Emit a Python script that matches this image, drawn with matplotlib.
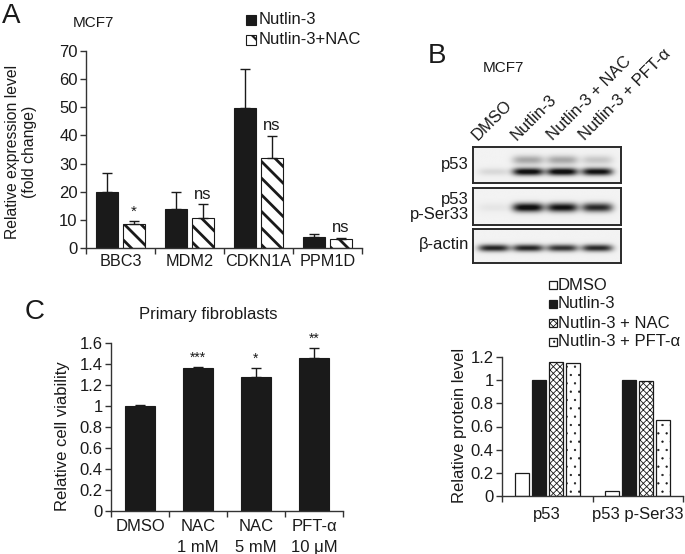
import numpy as np
import matplotlib
matplotlib.use('Agg')
import matplotlib.pyplot as plt
from matplotlib.patches import Rectangle

plt.rcParams['font.family'] = ['Liberation Sans', 'DejaVu Sans']
plt.rcParams['hatch.linewidth'] = 2.0

# ---------------- data ----------------
# Panel A
genes = ['BBC3', 'MDM2', 'CDKN1A', 'PPM1D']
nutlin = [20.0, 14.0, 49.8, 4.0]
nutlin_err = [6.5, 5.8, 13.7, 0.9]
nutlin_nac = [8.5, 10.5, 32.0, 3.2]
nutlin_nac_err = [1.0, 5.0, 7.7, 0.4]
sig_A = ['*', 'ns', 'ns', 'ns']

# Panel B blot (relative band intensities per lane)
lanes = ['DMSO', 'Nutlin-3', 'Nutlin-3 + NAC', 'Nutlin-3 + PFT-α']
p53_band = [0.10, 0.95, 0.97, 0.92]
p53_upper_band = [0.0, 0.30, 0.30, 0.17]
pser33_band = [0.05, 0.95, 0.90, 0.80]
actin_band = [0.82, 0.82, 0.76, 0.80]

# Panel B quantification
proteins = ['p53', 'p53 p-Ser33']
q_dmso = [0.20, 0.04]
q_nutlin = [1.00, 1.00]
q_nac = [1.16, 0.99]
q_pft = [1.15, 0.66]

# Panel C
treat = ['DMSO', 'NAC\n1 mM', 'NAC\n5 mM', 'PFT-α\n10 μM']
viab = [1.00, 1.36, 1.28, 1.46]
viab_err = [0.01, 0.01, 0.08, 0.09]
sig_C = ['', '***', '*', '**']

# ---------------- figure ----------------
W, H = 685, 554
fig = plt.figure(figsize=(W / 100, H / 100), dpi=100)
DARK = '#1a1a1a'
AX = '#333333'
FS = 12


def ax_px(l, t, r, b):
    return fig.add_axes([l / W, 1 - b / H, (r - l) / W, (b - t) / H])


def txt(x, y, s, **kw):
    return fig.text(x / W, 1 - y / H, s, **kw)


def style_axes(ax, ngroups, ylim, yticks, ylabels, xlabels, xpad):
    for s in ['top', 'right']:
        ax.spines[s].set_visible(False)
    for s in ['left', 'bottom']:
        ax.spines[s].set_color(AX)
        ax.spines[s].set_linewidth(1.0)
    ax.set_xlim(-0.5, ngroups - 0.5)
    ax.set_ylim(*ylim)
    ax.set_yticks(yticks)
    ax.set_yticklabels(ylabels)
    ax.set_xticks(np.arange(ngroups + 1) - 0.5)
    ax.set_xticklabels([''] * (ngroups + 1))
    ax.set_xticks(np.arange(ngroups), minor=True)
    ax.set_xticklabels(xlabels, minor=True)
    ax.tick_params(axis='both', which='major', direction='out', length=4,
                   width=1.0, color=AX, labelsize=FS, labelcolor=DARK, pad=2)
    ax.tick_params(axis='x', which='minor', length=0, pad=xpad,
                   labelsize=FS, labelcolor=DARK)
    ax.patch.set_alpha(0)


# ---------------- Panel A ----------------
axA = ax_px(86, 51, 362, 248)
x = np.arange(len(genes))
w, off = 0.32, 0.196
axA.bar(x - off, nutlin, w, color=DARK, edgecolor=DARK, linewidth=0.8)
axA.bar(x + off, nutlin_nac, w, color='white', edgecolor=DARK,
        hatch='\\\\', linewidth=0.8)
axA.errorbar(x - off, nutlin, yerr=[np.zeros(len(x)), nutlin_err], fmt='none',
             ecolor=DARK, elinewidth=1.0, capsize=3.5, capthick=1.0)
axA.errorbar(x + off, nutlin_nac, yerr=[np.zeros(len(x)), nutlin_nac_err],
             fmt='none', ecolor=DARK, elinewidth=1.0, capsize=3.5, capthick=1.0)
for i, s in enumerate(sig_A):
    top = nutlin_nac[i] + nutlin_nac_err[i]
    axA.text(x[i] + off, top + 1.0, s, ha='center', va='bottom',
             fontsize=FS if s == 'ns' else 11, color=DARK)
style_axes(axA, 4, (0, 70), np.arange(0, 71, 10),
           [str(v) for v in range(0, 71, 10)], genes, 4)
for lab in axA.get_xticklabels(minor=True):
    lab.set_fontsize(11.7)

txt(21, 152, 'Relative expression level\n(fold change)', rotation=90,
    ha='center', va='center', fontsize=11.3, color=DARK, linespacing=1.1)
txt(2, 23, 'A', fontsize=20, color=DARK, ha='left', va='baseline')
txt(73, 27, 'MCF7', fontsize=11, color=DARK, ha='left', va='baseline')

# legend A
legA = [('Nutlin-3', dict(facecolor=DARK, edgecolor=DARK, hatch=None)),
        ('Nutlin-3+NAC', dict(facecolor='white', edgecolor=DARK, hatch='\\\\'))]
for k, (lab, st) in enumerate(legA):
    yc = 20 + 20 * k
    r = Rectangle((246 / W, 1 - (yc + 5) / H), 10 / W, 10 / H,
                  transform=fig.transFigure, linewidth=0.8, **st)
    if hasattr(r, 'set_hatch_linewidth'):
        r.set_hatch_linewidth(1.6)
    fig.add_artist(r)
    txt(259, yc, lab, fontsize=FS, color=DARK, ha='left', va='center')

# ---------------- Panel B blot ----------------
txt(428, 63, 'B', fontsize=20, color=DARK, ha='left', va='baseline')
txt(483, 72, 'MCF7', fontsize=11, color=DARK, ha='left', va='baseline')

lane_pos = np.array([0.14, 0.37, 0.60, 0.835])
label_x = [478, 517, 553, 585]
for lx, lab in zip(label_x, lanes):
    txt(lx, 141, lab, rotation=45, rotation_mode='anchor', ha='left',
        va='baseline', fontsize=12, color=DARK)


def blot(ax, bands):
    ny, nx = 80, 300
    yy = np.linspace(1, 0, ny)[:, None]
    xx = np.linspace(0, 1, nx)[None, :]
    img = np.full((ny, nx), 0.05)
    for vals, yc, sy in bands:
        for c, v in zip(lane_pos, vals):
            prof_x = np.exp(-((xx - c) / 0.105) ** 4)
            prof_y = np.exp(-0.5 * ((yy - yc) / sy) ** 2)
            img += v * prof_x * prof_y
    img = np.clip(img, 0, 0.93)
    ax.imshow(img, cmap='gray_r', vmin=0, vmax=1, extent=[0, 1, 0, 1],
              aspect='auto', interpolation='bilinear')
    ax.set_xticks([])
    ax.set_yticks([])
    for s in ax.spines.values():
        s.set_linewidth(1.4)
        s.set_color('#2a2a2a')


ax1 = ax_px(473, 147, 621, 183)
blot(ax1, [(p53_band, 0.31, 0.075), (p53_upper_band, 0.64, 0.09)])
ax2 = ax_px(473, 188, 621, 225)
blot(ax2, [(pser33_band, 0.46, 0.085)])
ax3 = ax_px(473, 229, 621, 263)
blot(ax3, [(actin_band, 0.44, 0.075)])

txt(469, 165, 'p53', fontsize=FS, color=DARK, ha='right', va='center')
txt(469, 207, 'p53\np-Ser33', fontsize=FS, color=DARK, ha='right',
    va='center', multialignment='right', linespacing=1.0)
txt(469, 244, 'β-actin', fontsize=FS, color=DARK, ha='right', va='center')

# ---------------- Panel B quantification ----------------
axQ = ax_px(502, 357, 683, 496)
xq = np.arange(len(proteins))
bw = 0.155
offs = [-0.28, -0.093, 0.093, 0.28]
series_q = [
    (q_dmso, dict(color='white', edgecolor=DARK, hatch=None), None),
    (q_nutlin, dict(color=DARK, edgecolor=DARK, hatch=None), None),
    (q_nac, dict(color='white', edgecolor=DARK, hatch='xxxxx'), 0.6),
    (q_pft, dict(color='white', edgecolor=DARK, hatch='..'), 0.4),
]
for (vals, st, hlw), o in zip(series_q, offs):
    bars = axQ.bar(xq + o, vals, bw, linewidth=0.9, **st)
    if hlw is not None:
        for b in bars:
            if hasattr(b, 'set_hatch_linewidth'):
                b.set_hatch_linewidth(hlw)
style_axes(axQ, 2, (0, 1.2), [0, 0.2, 0.4, 0.6, 0.8, 1.0, 1.2],
           ['0', '0.2', '0.4', '0.6', '0.8', '1', '1.2'], proteins, 8)
txt(460, 425, 'Relative protein level', rotation=90, ha='center',
    va='center', fontsize=FS, color=DARK)

legB = [('DMSO', series_q[0]), ('Nutlin-3', series_q[1]),
        ('Nutlin-3 + NAC', series_q[2]), ('Nutlin-3 + PFT-α', series_q[3])]
for k, (lab, (vals, st, hlw)) in enumerate(legB):
    yc = 285 + 19 * k
    r = Rectangle((549 / W, 1 - (yc + 4) / H), 8 / W, 8 / H,
                  transform=fig.transFigure, linewidth=0.9,
                  facecolor=st['color'], edgecolor=st['edgecolor'],
                  hatch=st['hatch'])
    if hlw is not None and hasattr(r, 'set_hatch_linewidth'):
        r.set_hatch_linewidth(hlw)
    fig.add_artist(r)
    txt(558, yc, lab, fontsize=FS, color=DARK, ha='left', va='center')

# ---------------- Panel C ----------------
axC = ax_px(111, 343, 343, 511)
xc = np.arange(len(treat))
axC.bar(xc, viab, 0.53, color=DARK, edgecolor=DARK, linewidth=0.8)
axC.errorbar(xc, viab, yerr=[np.zeros(len(xc)), viab_err], fmt='none',
             ecolor=DARK, elinewidth=1.0, capsize=3.5, capthick=1.0)
for i, s in enumerate(sig_C):
    if s:
        axC.text(xc[i], viab[i] + viab_err[i] + 0.02, s, ha='center',
                 va='bottom', fontsize=10, color=DARK)
style_axes(axC, 4, (0, 1.6), [0, 0.2, 0.4, 0.6, 0.8, 1.0, 1.2, 1.4, 1.6],
           ['0', '0.2', '0.4', '0.6', '0.8', '1', '1.2', '1.4', '1.6'],
           treat, 6)
for lab in axC.get_xticklabels(minor=True):
    lab.set_va('top')
    lab.set_linespacing(1.5)
txt(62, 436, 'Relative cell viability', rotation=90, ha='center',
    va='center', fontsize=FS, color=DARK)
txt(25, 319, 'C', fontsize=20, color=DARK, ha='left', va='baseline')
txt(208, 314, 'Primary fibroblasts', fontsize=FS, color=DARK,
    ha='center', va='center')

fig.savefig('out.png', dpi=100)
